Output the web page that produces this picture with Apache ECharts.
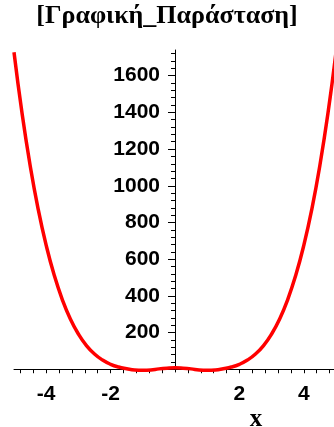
<!DOCTYPE html>
<html>
<head>
<meta charset="utf-8">
<script src="https://cdn.jsdelivr.net/npm/echarts@6/dist/echarts.min.js"></script>
<style>
html,body{margin:0;padding:0;background:#fff;}
#chart{width:334px;height:427px;}
</style>
</head>
<body>
<div id="chart"></div>
<script>
// Data
const xValues = [-5, -4.75, -4.5, -4.25, -4, -3.75, -3.5, -3.25, -3, -2.75, -2.5, -2.25, -2, -1.75, -1.5, -1.25, -1, -0.75, -0.5, -0.25, 0,
                 0.25, 0.5, 0.75, 1, 1.25, 1.5, 1.75, 2, 2.25, 2.5, 2.75, 3, 3.25, 3.5, 3.75, 4, 4.25, 4.5, 4.75, 5];
const yValues = [1728, 1395, 1112, 873, 675, 512, 380, 274, 192, 129, 83, 50, 27, 12, 3, -4, -6, -4, 2, 6, 8,
                 6, 2, -4, -6, -4, 3, 12, 27, 50, 83, 129, 192, 274, 380, 512, 675, 873, 1112, 1395, 1728];
const xTickLabels = [-4, -2, 2, 4];
const xMinorTicks = [-4.8, -4.4, -4, -3.6, -3.2, -2.8, -2.4, -2, -1.6, -1.2, -0.8, -0.4, 0.4, 0.8, 1.2, 1.6, 2, 2.4, 2.8, 3.2, 3.6, 4, 4.4, 4.8];
const yTickLabels = [200, 400, 600, 800, 1000, 1200, 1400, 1600];
const yMinorTicks = [40, 80, 120, 160, 200, 240, 280, 320, 360, 400, 440, 480, 520, 560, 600, 640, 680, 720, 760, 800,
                     840, 880, 920, 960, 1000, 1040, 1080, 1120, 1160, 1200, 1240, 1280, 1320, 1360, 1400, 1440, 1480, 1520, 1560, 1600,
                     1640, 1680, 1720];
const titleText = '[Γραφική_Παράσταση]';
const xAxisName = 'x';

const chart = echarts.init(document.getElementById('chart'), null, {renderer: 'canvas'});
const pts = xValues.map((x, i) => [x, yValues[i]]);
const labelFont = {fontFamily: 'Liberation Sans', fontWeight: 'bold', fontSize: 21, color: '#000'};
const X0 = 14, W = 322, TOP = 50, H = 322;
const yMin = -15, yMax = 1740;

chart.setOption({
  animation: false,
  backgroundColor: '#fff',
  grid: [
    {left: X0, top: TOP, width: W, height: H, outerBoundsMode: 'none', containLabel: false},
    // right half grid whose left edge sits at x = 0, carrying the vertical axis
    {left: X0 + W / 2, top: TOP, width: W / 2, height: H, outerBoundsMode: 'none', containLabel: false}
  ],
  xAxis: [{
    gridIndex: 0, type: 'value', min: -5, max: 5,
    axisLine: {onZero: true, lineStyle: {color: '#000', width: 1}},
    axisTick: {show: true, length: 4, customValues: xMinorTicks, lineStyle: {color: '#000'}},
    axisLabel: Object.assign({customValues: xTickLabels, margin: 12}, labelFont),
    splitLine: {show: false}
  }, {
    gridIndex: 1, type: 'value', min: 0, max: 5, show: false
  }],
  yAxis: [{
    gridIndex: 0, type: 'value', min: yMin, max: yMax,
    axisLine: {show: false, onZero: false}, axisTick: {show: false}, axisLabel: {show: false}, splitLine: {show: false}
  }, {
    gridIndex: 1, type: 'value', min: yMin, max: yMax, position: 'left', offset: 0,
    axisLine: {show: true, onZero: false, lineStyle: {color: '#000', width: 1}},
    axisTick: {show: true, length: 7, customValues: yTickLabels, lineStyle: {color: '#000'}},
    axisLabel: Object.assign({customValues: yTickLabels, margin: 15, formatter: v => String(v)}, labelFont),
    splitLine: {show: false}
  }, {
    gridIndex: 1, type: 'value', min: yMin, max: yMax, position: 'left', offset: 0,
    axisLine: {show: false, onZero: false},
    axisTick: {show: true, length: 4, customValues: yMinorTicks, lineStyle: {color: '#000'}},
    axisLabel: {show: false},
    splitLine: {show: false}
  }],
  series: [{
    type: 'line', xAxisIndex: 0, yAxisIndex: 0, data: pts, smooth: true, showSymbol: false, clip: true,
    lineStyle: {color: '#ff0000', width: 3.5}
  }],
  graphic: [{
    type: 'text', left: 'center', top: 3,
    style: {text: titleText, font: 'bold 26px "Liberation Serif"', fill: '#000'}
  }, {
    type: 'text', x: 256, y: 420,
    style: {text: xAxisName, font: 'bold 25px "Liberation Serif"', fill: '#000', align: 'center', verticalAlign: 'middle'}
  }]
});
</script>
</body>
</html>
